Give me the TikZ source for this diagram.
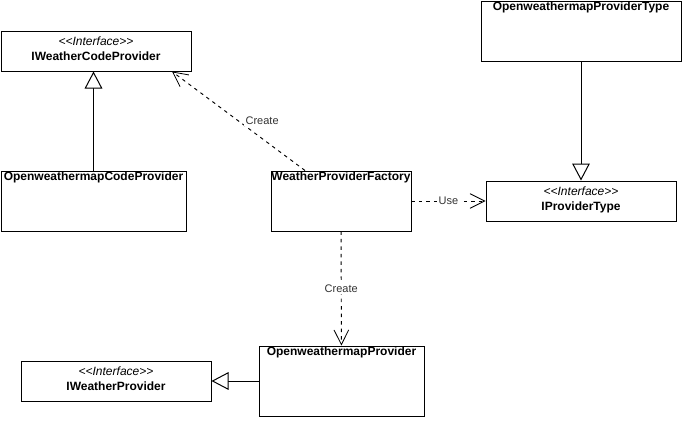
\documentclass[tikz,border=0pt]{standalone}
\usepackage{fontspec}
\setmainfont{Liberation Sans}
\usetikzlibrary{arrows.meta}

\begin{document}
\begin{tikzpicture}[x=0.75pt,y=-0.75pt,
	classbox/.style={draw,line width=0.75pt,shape=rectangle,inner sep=0pt},
	classname/.style={anchor=north,inner sep=0pt,yshift=-0.5pt,font=\fontsize{9}{11}\selectfont\bfseries},
	ifacename/.style={anchor=north,inner sep=0pt,yshift=-4.5pt,align=center,font=\fontsize{9}{11.25}\selectfont},
	realize/.style={line width=0.75pt,-{Triangle[open,length=12.75pt,width=13.25pt,fill=white]}},
	depend/.style={line width=0.7pt,dash pattern=on 2.6pt off 3pt,-{Straight Barb[length=11pt,width=11pt,line width=0.6pt]}},
	linklabel/.style={fill=white,inner sep=1pt,text=black!80,font=\fontsize{8.25}{10}\selectfont}]
	\useasboundingbox (0,0) rectangle (683,421);

	\draw (96,51) node (ICP) [classbox,minimum width=142.5pt,minimum height=30pt] {};
	\node (ICPname) [ifacename] at (ICP.north) {\textit{<{}<Interface>{}>}\\\textbf{IWeatherCodeProvider}};
	\draw (93.5,201) node (OCP) [classbox,minimum width=138.75pt,minimum height=45pt] {};
	\node (OCPname) [classname] at (OCP.north) {OpenweathermapCodeProvider};
	\draw (341,201) node (WPF) [classbox,minimum width=105pt,minimum height=45pt] {};
	\node (WPFname) [classname] at (WPF.north) {WeatherProviderFactory};
	\draw (581,31) node (OPT) [classbox,minimum width=150pt,minimum height=45pt] {};
	\node (OPTname) [classname] at (OPT.north) {OpenweathermapProviderType};
	\draw (581,201) node (IPT) [classbox,minimum width=142.5pt,minimum height=30pt] {};
	\node (IPTname) [ifacename] at (IPT.north) {\textit{<{}<Interface>{}>}\\\textbf{IProviderType}};
	\draw (116,381) node (IWP) [classbox,minimum width=142.5pt,minimum height=30pt] {};
	\node (IWPname) [ifacename] at (IWP.north) {\textit{<{}<Interface>{}>}\\\textbf{IWeatherProvider}};
	\draw (341.5,381) node (OWP) [classbox,minimum width=123.75pt,minimum height=52.5pt] {};
	\node (OWPname) [classname] at (OWP.north) {OpenweathermapProvider};

	\draw[realize] (OCP.north) -- (OCP.north |- ICP.south);
	\draw[realize] (OPT) -- (IPT);
	\draw[realize] (OWP.west |- IWP.east) -- (IWP.east);

	\draw[depend] ([xshift=-27pt]WPF.north) -- node (createA) [linklabel,anchor=west,xshift=4pt] {Create} ([xshift=57pt]ICP.south);
	\draw[depend] (WPF) -- node (use) [linklabel] {Use} (IPT);
	\draw[depend] (WPF) -- node (createB) [linklabel] {Create} (OWP);
\end{tikzpicture}
\end{document}
